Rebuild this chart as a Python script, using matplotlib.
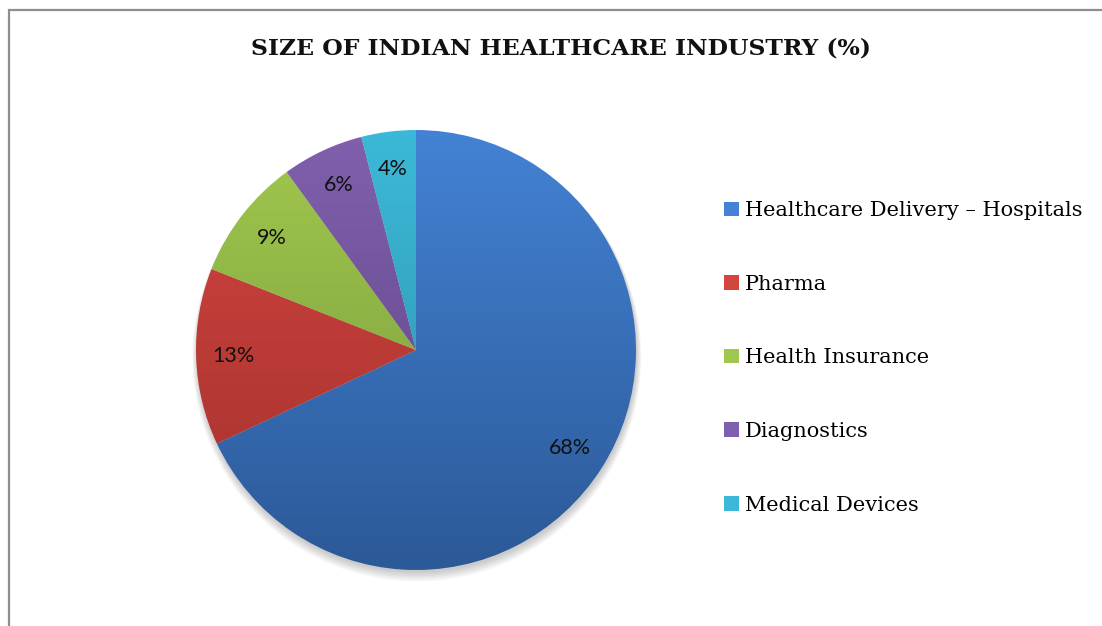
import numpy as np
from matplotlib import pyplot as plt
from matplotlib import patches
from matplotlib.colors import LinearSegmentedColormap

categories = ['Healthcare Delivery \u2013 Hospitals', 'Pharma', 'Health Insurance',
              'Diagnostics', 'Medical Devices']
shares = [68, 13, 9, 6, 4]
# (top, bottom) shade of each slice
shades = [('#4382d4', '#2c5997'), ('#d34540', '#a3302c'), ('#a1c84e', '#76973a'),
          ('#8060ad', '#5c4283'), ('#3cb9d8', '#2a8ea9')]

fig = plt.figure(figsize=(11.02, 6.26), dpi=100)

# grey frame of the chart area (right/bottom edges are cut off)
frame = patches.Rectangle((8.5 / 1102, -0.05), 1.2, 1 - 10.5 / 626 + 0.05,
                          transform=fig.transFigure, fill=False,
                          edgecolor='#8e8e8e', linewidth=1.6)
fig.add_artist(frame)

fig.text(561 / 1102, 1 - 48 / 626, 'SIZE OF INDIAN HEALTHCARE INDUSTRY (%)',
         ha='center', va='center', fontsize=16.9, fontweight='bold',
         family='DejaVu Serif', color='#111111')

ax = fig.add_axes([196 / 1102, 56 / 626, 440 / 1102, 440 / 626])

# soft shadow under the pie
for k in range(6):
    ax.add_patch(patches.Circle((0.004, -0.012 - 0.004 * k), 1.0 + 0.004 * k,
                                facecolor='black', edgecolor='none',
                                alpha=0.035, zorder=0))

wedges, texts, autotexts = ax.pie(shares, startangle=90, counterclock=False,
                                  autopct='%d%%', pctdistance=0.83,
                                  colors=[s[0] for s in shades],
                                  wedgeprops=dict(linewidth=0),
                                  textprops=dict(fontsize=15.5, family='Lato',
                                                 color='#111111'))

grad = np.linspace(1, 0, 256).reshape(-1, 1)
for w, (top, bottom) in zip(wedges, shades):
    cmap = LinearSegmentedColormap.from_list('g', [bottom, top])
    w.set_facecolor('none')
    im = ax.imshow(grad, cmap=cmap, extent=[-1, 1, -1, 1], aspect='auto',
                   origin='upper', zorder=1)
    im.set_clip_path(w)
for t in autotexts:
    t.set_zorder(5)

ax.set_xlim(-1.05, 1.05)
ax.set_ylim(-1.05, 1.05)
ax.set_aspect('equal')
ax.axis('off')
pos = ax.get_position()
ax.set_position([196 / 1102 - 0.025 * pos.width, 56 / 626 - 0.025 * pos.height,
                 pos.width * 1.05, pos.height * 1.05])

handles = [patches.Patch(facecolor=s[0], edgecolor='none') for s in shades]
leg = fig.legend(handles, categories, loc='upper left',
                 bbox_to_anchor=(716 / 1102, 1 - 193 / 626), frameon=False,
                 prop=dict(family='DejaVu Serif', size=15),
                 handlelength=0.7, handleheight=0.7, handletextpad=0.3,
                 labelspacing=2.62, borderaxespad=0)

fig.savefig('out.png', dpi=100)
